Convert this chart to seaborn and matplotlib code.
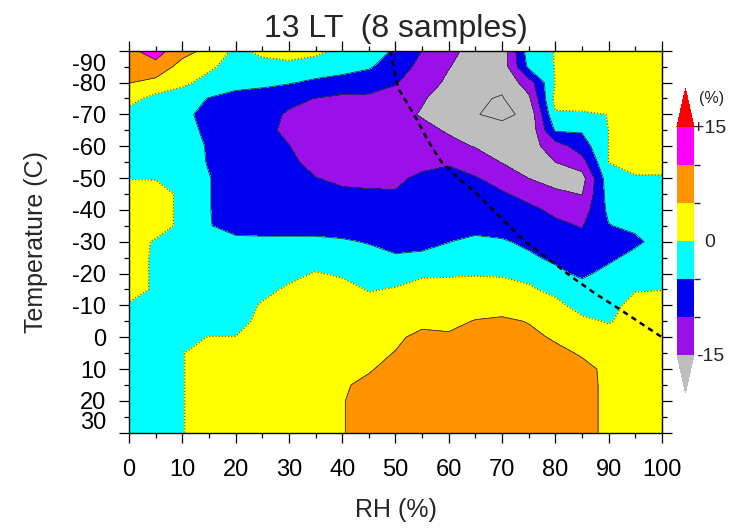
import matplotlib
matplotlib.use("Agg")
import matplotlib.pyplot as plt
from matplotlib.colors import ListedColormap, BoundaryNorm
from matplotlib.transforms import ScaledTranslation
import numpy as np
import pandas as pd
import seaborn as sns

# grid of the plot (RH in %, temperature in C, -90 at the top)
rh = list(range(0, 101, 5))
temp = list(range(-90, 31, 5))

# relative change (%), one row per temperature
change = [
    [9, 12, 7, 3.5, -1, 1, 1.5, 1, -1, -3, -5.5, -10.1, -13.5, -17, -18, -2.5, 0.2, 2, 2, 2, 2],
    [6.5, 8.5, 3, 1, -2.5, -1.5, -1, -2, -3, -4.5, -7.5, -11.5, -14.8, -17.5, -18, -4, 0.2, 2, 2, 2, 2],
    [5.2, 3.5, 1.2, -2, -3, -3.5, -4.6, -6, -7, -7.5, -9.7, -12.5, -16, -18.5, -19, -12.5, 0.2, 2, 2, 2, 2],
    [1.5, -1.5, -3, -5.2, -7, -8, -9, -10.1, -11, -11, -11.5, -14.5, -17.5, -19.5, -20.3, -16, 1.5, 2, 2, 2, 2],
    [-1.5, -2.5, -3.5, -7, -8, -8.5, -10.5, -12, -12.5, -12.5, -13, -15.5, -18, -19.8, -21, -19, -0.5, -0.5, 0.05, 2, 2],
    [-1.5, -2, -2.5, -6.5, -8, -9, -10.8, -12.5, -13, -13, -13, -13.5, -15.6, -18, -18.5, -19, -4.5, -4.5, 0.05, 2, 2],
    [-1.5, -2, -2, -5.6, -8, -9, -9.9, -12, -13, -13.5, -13.5, -13, -13.5, -15.3, -17.5, -17, -12.5, -7.5, 0.05, 2, 2],
    [-1.5, -1.5, -2, -5.4, -8, -8.5, -9, -11.5, -12.5, -12.5, -12, -11.5, -10.5, -12.5, -15.2, -17, -15, -12, 0.05, 2, 2],
    [-0.2, -0.3, -2, -4.8, -7.5, -8.5, -8.5, -9.9, -10.8, -11, -11, -9, -8.5, -9.7, -12, -15.1, -17, -17, -2, -0.5, -0.5],
    [2, 2, -1, -4.8, -7.5, -8.5, -8.5, -8.5, -9.3, -9.5, -9.6, -8, -7.5, -8.5, -9.5, -11.5, -14, -15.2, -3, -1, -1],
    [2, 2, -1, -4.8, -7.5, -8, -8, -8, -8, -8, -7.5, -7.5, -7.5, -7.5, -8, -9, -11, -12.5, -4, -2, -1.5],
    [2, 2, -1, -4.8, -6.5, -6.5, -6.5, -6.5, -7, -7, -7.5, -7.5, -7, -6.5, -7, -7.5, -9, -10.3, -5.2, -4, -2.5],
    [2, -0.5, -2, -3.5, -4, -4.2, -4.2, -4.2, -4.5, -5.3, -6.5, -6, -5.1, -4, -4.5, -6, -7.5, -8.5, -7, -6, -3],
    [2, -0.7, -2, -2.5, -3, -3, -2.5, -2.5, -3, -3.5, -4.5, -4.3, -3.5, -3, -3.5, -4.2, -6, -7.5, -6, -3.5, -2.5],
    [2, -0.7, -2, -2, -2, -1.8, -1.5, 0.3, -0.6, -1.5, -2, -0.5, -0.3, -0.2, -0.3, -1, -3.8, -6, -3.5, -2, -1.5],
    [2, -0.7, -2, -2.5, -2.5, -1.5, 0.8, 1.5, 1.5, -0.3, 0.3, 1.2, 1, 1, 1, 0.5, -1, -3, -2, -0.3, -0.1],
    [-0.5, -1, -2, -2.5, -2.5, 0.5, 1.5, 2, 2, 1.5, 1.5, 2, 2, 2.5, 3, 2, 1, -1.5, -1.5, 1.5, 1.5],
    [-1, -1.5, -1.5, -2, -2, 1.5, 2, 2, 2.5, 2.5, 3, 3.5, 3.5, 5.3, 5.8, 4.8, 3.5, 0.8, -0.3, 1.5, 2],
    [-1, -1, -1, 0.1, 0.1, 2, 2.5, 3, 3.5, 3.5, 4, 6.5, 5.8, 6.5, 7, 6, 4.5, 3, 1.5, 2, 2],
    [-1, -1, -0.2, 2, 2.5, 3, 3, 3.5, 4, 3.5, 5.2, 7, 7.5, 7.5, 7.5, 7, 6, 4.6, 3, 2.5, 2.5],
    [-1, -1, -0.2, 2, 2.5, 3, 3, 3.5, 4, 4.6, 6.5, 7.5, 8, 8, 8, 7.5, 7, 6, 4.2, 3, 2.5],
    [-1, -1, -0.2, 2, 2.5, 3, 3, 3.5, 4.5, 6, 7, 8, 8, 8, 8, 8, 8, 6.5, 4, 3, 2.5],
    [-1, -1, -0.2, 2, 2.5, 3, 3, 3.5, 4.8, 6.5, 7.5, 8, 8, 8, 8, 8, 8, 6.5, 4, 3, 2.5],
    [-1, -1, -0.2, 2, 2.5, 3, 3, 3.5, 4.8, 6.5, 7.5, 8, 8, 8, 8, 8, 8, 6.5, 4, 3, 2.5],
    [-1, -1, -0.2, 2, 2.5, 3, 3, 3.5, 4.8, 6.5, 7.5, 8, 8, 8, 8, 8, 8, 6.5, 4, 3, 2.5],
]

# dashed line (ice saturation)
ice_rh = [49.0, 50.5, 53.7, 56.2, 58.6, 61.8, 64.9, 68.0, 70.5, 74.3, 77.4, 83.0, 87.4, 91.8, 96.1, 100.0]
ice_t = [-90, -78.2, -69.3, -61.4, -55.1, -49.9, -45.7, -40.5, -36.3, -30.0, -26.3, -19.0, -13.8, -9.1, -4.3, 0.0]

levels = [-15, -10, -5, 0, 5, 10, 15]
band_colors = ["#9b10e8", "#0000f0", "#00ffff", "#ffff00", "#ff9400", "#ff00ff"]
cbar_ticks = [-15, 0, 15]
cbar_labels = ["-15", "0", "+15"]

sns.set_theme(style="ticks")
plt.rcParams["font.family"] = ["Liberation Sans", "DejaVu Sans"]

grid = pd.DataFrame(change, index=temp, columns=rh)

cmap = ListedColormap(band_colors)
cmap.set_under("#bebebe")
cmap.set_over("#ff0000")
norm = BoundaryNorm(levels, cmap.N)

fig = plt.figure(figsize=(7.38, 5.29), dpi=100)
ax = fig.add_axes([0.1748, 0.182, 0.7222, 0.7221])
cax = fig.add_axes([0.9173, 0.2571, 0.023, 0.5747])

X, Y = np.meshgrid(grid.columns.values, grid.index.values)
cf = ax.contourf(X, Y, grid.values, levels=levels, cmap=cmap, norm=norm, extend="both")
ax.contour(X, Y, grid.values, levels=[-20, -15, -10, -5, 5, 10, 15],
           colors="#333333", linewidths=0.6, linestyles="solid")
ax.contour(X, Y, grid.values, levels=[0], colors="#6b6b2a", linewidths=0.9,
           linestyles=[(0, (1, 1.5))])

sns.lineplot(x=ice_rh, y=ice_t, sort=False, color="black", lw=1.8,
             linestyle=(0, (2.2, 1.8)), ax=ax)

ax.set_xlim(0, 100)
ax.set_ylim(30, -90)
ax.set_xticks(range(0, 101, 10))
ax.set_xticks(range(0, 101, 5), minor=True)
ax.set_yticks(range(-90, 31, 10))
ax.set_yticks(range(-90, 31, 5), minor=True)
ax.set_yticklabels([str(t) for t in range(-90, 31, 10)])

for s in ax.spines.values():
    s.set_color("black")
    s.set_linewidth(1.0)
ax.tick_params(which="both", direction="out", top=True, right=True,
               color="black", width=0.9, labelcolor="black")
ax.tick_params(which="major", length=7)
ax.tick_params(which="minor", length=3.5)
ax.tick_params(axis="x", which="major", labelsize=17, pad=12)
ax.tick_params(axis="y", which="major", labelsize=17, pad=9.5)

# the end labels sit a bit inside the axis in the original
for lab in ax.get_yticklabels():
    if lab.get_text() == "-90":
        lab.set_transform(lab.get_transform() + ScaledTranslation(0, -8.6 / 72, fig.dpi_scale_trans))
    if lab.get_text() == "30":
        lab.set_transform(lab.get_transform() + ScaledTranslation(0, 8.6 / 72, fig.dpi_scale_trans))

ax.set_xlabel("RH (%)", fontsize=18, labelpad=12)
ax.set_ylabel("Temperature (C)", fontsize=18, labelpad=17)
ax.set_title("13 LT  (8 samples)", fontsize=23, pad=10)

cbar = fig.colorbar(cf, cax=cax, ticks=cbar_ticks, extendfrac=0.1667)
cbar.outline.set_visible(False)
cbar.ax.set_yticklabels(cbar_labels)
cbar.ax.tick_params(length=0, labelsize=14, pad=11.5)
for lab in cbar.ax.get_yticklabels():
    lab.set_horizontalalignment("center")
cax.text(2.06, 1.127, "(%)", transform=cax.transAxes, ha="center", va="center", fontsize=11.5)

fig.savefig("out.png", dpi=100)
